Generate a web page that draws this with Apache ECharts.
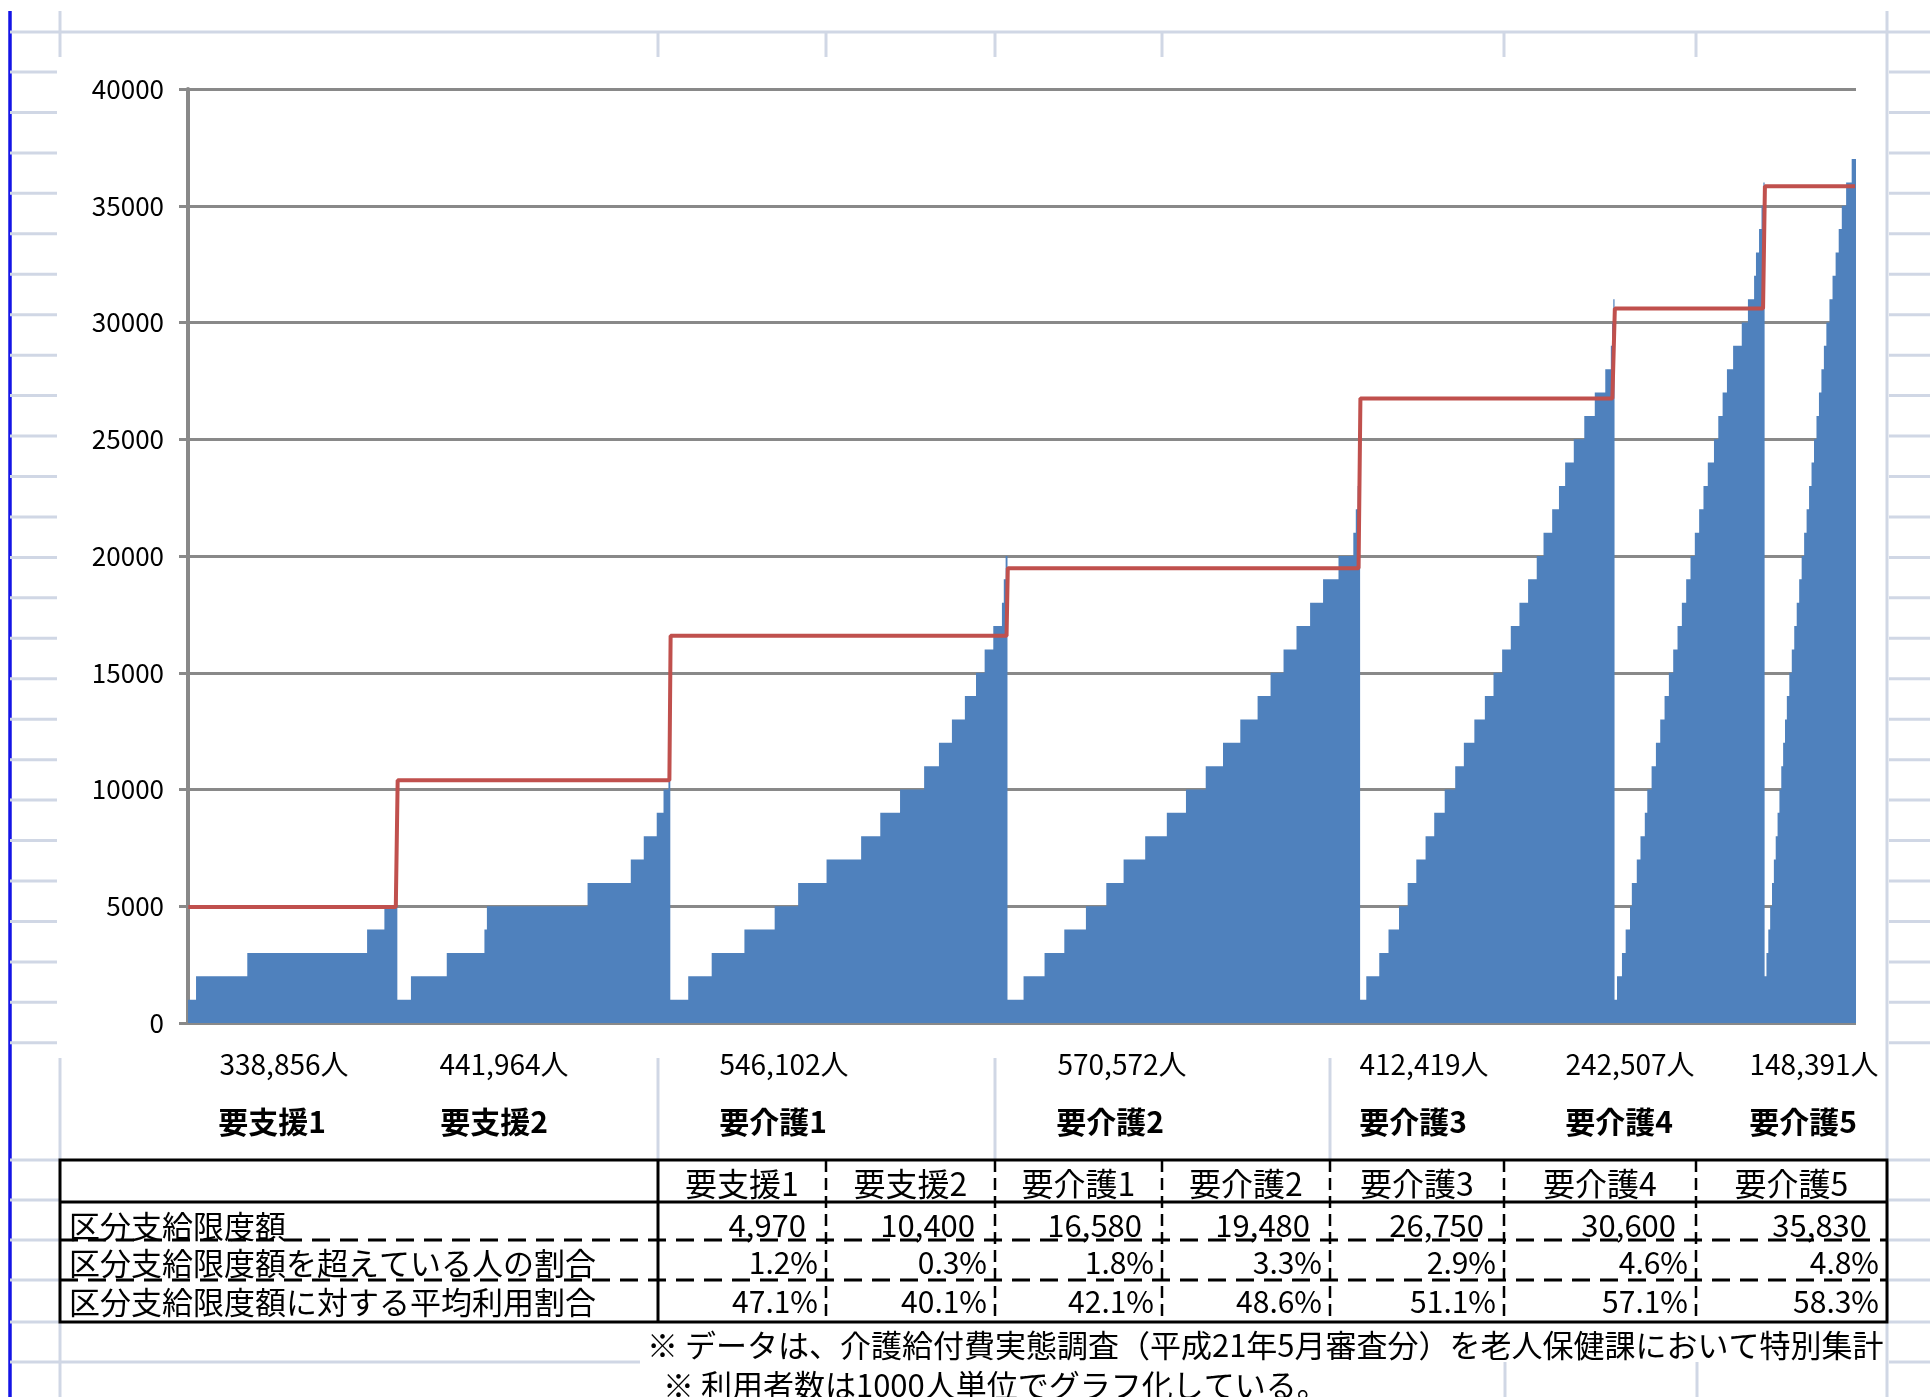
<!DOCTYPE html>
<html><head><meta charset="utf-8">
<script src="https://cdn.jsdelivr.net/npm/echarts/dist/echarts.min.js"></script>
<style>html,body{margin:0;padding:0;background:#fff}#c{width:1930px;height:1397px}</style>
</head><body><div id="c"></div>
<script>
// ---- data ----
const levels = ['要支援1','要支援2','要介護1','要介護2','要介護3','要介護4','要介護5'];
const userLabels = ['338,856人','441,964人','546,102人','570,572人','412,419人','242,507人','148,391人'];
const limits = [4970, 10400, 16580, 19480, 26750, 30600, 35830];
const limitLabels = ['4,970','10,400','16,580','19,480','26,750','30,600','35,830'];
const overRatio = ['1.2%','0.3%','1.8%','3.3%','2.9%','4.6%','4.8%'];
const avgRatio = ['47.1%','40.1%','42.1%','48.6%','51.1%','57.1%','58.3%'];
const rowLabels = ['区分支給限度額','区分支給限度額を超えている人の割合','区分支給限度額に対する平均利用割合'];
const notes = ['※ データは、介護給付費実態調査（平成21年5月審査分）を老人保健課において特別集計','※ 利用者数は1000人単位でグラフ化している。'];
const yTicks = [0,5000,10000,15000,20000,25000,30000,35000,40000];

// usage amount (yen) steps and number of users (thousands) at each step
const sien1Values = [1000,2000,3000,4000,5000,6000];
const sien1Counts = [13,83,194,28,17,4];
const sien2Values = [1000,2000,3000,4000,5000,6000,7000,8000,9000,10000,11000,12000];
const sien2Counts = [22,58,61,4,163,70,21,21,11,8,1,2];
const kaigo1Values = [1000,2000,3000,4000,5000,6000,7000,8000,9000,10000,11000,12000,13000,14000,15000,16000,17000,18000,19000,20000];
const kaigo1Counts = [29,38,53,49,38,46,56,31,32,39,24,21,21,18,14,14,14,3,3,3];
const kaigo2Values = [1000,2000,3000,4000,5000,6000,7000,8000,9000,10000,11000,12000,13000,14000,15000,16000,17000,18000,19000,20000,21000,22000,23000,24000];
const kaigo2Counts = [26,34,32,35,33,28,35,35,31,32,28,28,28,21,21,21,22,21,25,24,4,3,2,2];
const kaigo3Values = [1000,2000,3000,4000,5000,6000,7000,8000,9000,10000,11000,12000,13000,14000,15000,16000,17000,18000,19000,20000,21000,22000,23000,24000,25000,26000,27000,28000,29000,30000,31000];
const kaigo3Counts = [10,21,15,17,14,14,15,14,17,17,14,17,17,14,14,14,14,14,14,11,14,11,10,14,17,17,17,9,2,2,2];
const kaigo4Values = [1000,2000,3000,4000,5000,6000,7000,8000,9000,10000,11000,12000,13000,14000,15000,16000,17000,18000,19000,20000,21000,22000,23000,24000,25000,26000,27000,28000,29000,30000,31000,32000,33000,34000,35000,36000];
const kaigo4Counts = [4,8,6,7,3,8,6,7,4,7,7,7,7,7,7,7,7,7,7,7,7,7,7,10,7,7,7,10,14,10,10,3,5,4,3,2];
const kaigo5Values = [2000,3000,4000,5000,6000,7000,8000,9000,10000,11000,12000,13000,14000,15000,16000,17000,18000,19000,20000,21000,22000,23000,24000,25000,26000,27000,28000,29000,30000,31000,32000,33000,34000,35000,36000,37000];
const kaigo5Counts = [3,3,3,3,3,3,3,3,3,3,3,3,4,4,4,4,4,4,4,4,4,4,4,4,4,4,4,4,5,5,5,5,5,7,9,7];

const steps = [[sien1Values,sien1Counts],[sien2Values,sien2Counts],[kaigo1Values,kaigo1Counts],[kaigo2Values,kaigo2Counts],[kaigo3Values,kaigo3Counts],[kaigo4Values,kaigo4Counts],[kaigo5Values,kaigo5Counts]];
const cats = [], barData = [], limitData = [];
steps.forEach(function(s, li){
  s[0].forEach(function(v, i){
    for (let k = 0; k < s[1][i]; k++) { cats.push(String(cats.length)); barData.push(v); limitData.push(limits[li]); }
  });
});

// ---- layout helpers (sheet decoration + table) ----
const FONT = '"Noto Sans CJK JP","Noto Sans",sans-serif';
const SHEET = '#d0d7e5';
const G = [];
function hline(x1,x2,y,c,w,dash){G.push({type:'line',silent:true,z:1,shape:{x1:x1,y1:y,x2:x2,y2:y},style:{stroke:c,lineWidth:w,lineDash:dash||null}});}
function vline(x,y1,y2,c,w,dash){G.push({type:'line',silent:true,z:1,shape:{x1:x,y1:y1,x2:x,y2:y2},style:{stroke:c,lineWidth:w,lineDash:dash||null}});}
function txt(x,y,t,size,align,weight){G.push({type:'text',silent:true,z:5,x:x,y:y,style:{text:t,fill:'#000',font:(weight||'normal')+' '+size+'px '+FONT,align:align,textAlign:align,verticalAlign:'middle',textVerticalAlign:'middle'}});}

// sheet grid
vline(10,11,1397,'#1414e6',3.5);
hline(10,1930,32,SHEET,3);
vline(60,11,57,SHEET,3);
[658,826,995,1162,1504,1696].forEach(function(x){vline(x,32,57,SHEET,3);});
vline(1887,11,1397,SHEET,3);
for (let k = 0; k < 25; k++) { const y = 72 + 40.45*k; hline(10,57,y,SHEET,3); hline(1889,1930,y,SHEET,3); }
[1160,1200,1240,1280,1322,1362].forEach(function(y){hline(10,60,y,SHEET,3); hline(1889,1930,y,SHEET,3);});
[60,658,995,1330].forEach(function(x){vline(x,1058,1160,SHEET,3);});
vline(60,1322,1397,SHEET,3);
hline(60,640,1362,SHEET,3);
[1505,1697].forEach(function(x){vline(x,1362,1397,SHEET,3);});

// labels under the chart
const colCentersTop = [284,504,784,1122,1424,1630,1814];
const lvlCenters = [272,494,773,1110,1413,1619,1803];
userLabels.forEach(function(t,i){txt(colCentersTop[i],1064,t,28,'center');});
levels.forEach(function(t,i){txt(lvlCenters[i],1122,t,30,'center','bold');});

// table
const colEdges = [658,826,995,1162,1330,1504,1696,1887];
G.push({type:'rect',silent:true,z:4,shape:{x:60,y:1160,width:1827,height:162},style:{fill:'#fff',stroke:'#000',lineWidth:3}});
function tl(x1,x2,y,w,dash){G.push({type:'line',silent:true,z:6,shape:{x1:x1,y1:y,x2:x2,y2:y},style:{stroke:'#000',lineWidth:w,lineDash:dash||null}});}
function tv(x,y1,y2,w,dash){G.push({type:'line',silent:true,z:6,shape:{x1:x,y1:y1,x2:x,y2:y2},style:{stroke:'#000',lineWidth:w,lineDash:dash||null}});}
tl(60,1887,1202,3);
tl(60,1887,1240,3,[18,10]);
tl(60,1887,1280,3,[18,10]);
tv(658,1160,1322,3);
for (let i = 1; i < colEdges.length-1; i++) tv(colEdges[i],1160,1322,2.5,[12,6]);
levels.forEach(function(t,i){txt((colEdges[i]+colEdges[i+1])/2,1184,t,32,'center');});
txt(69,1226,rowLabels[0],31,'left');
txt(69,1263,rowLabels[1],31,'left');
txt(69,1302,rowLabels[2],31,'left');
limitLabels.forEach(function(t,i){txt(colEdges[i+1]-20,1225,t,31,'right');});
overRatio.forEach(function(t,i){txt(colEdges[i+1]-8,1263,t,30,'right');});
avgRatio.forEach(function(t,i){txt(colEdges[i+1]-8,1302,t,30,'right');});
txt(647,1345,notes[0],31,'left');
txt(663,1385,notes[1],31,'left');

// ---- chart ----
const chart = echarts.init(document.getElementById('c'), null, {renderer:'canvas'});
chart.setOption({
  animation:false,
  backgroundColor:'#fff',
  grid:{left:188,right:74,top:89,bottom:374,containLabel:false},
  xAxis:{type:'category',data:cats,boundaryGap:true,axisLine:{show:false},axisTick:{show:false},axisLabel:{show:false},splitLine:{show:false}},
  yAxis:{type:'value',min:yTicks[0],max:yTicks[yTicks.length-1],interval:yTicks[1]-yTicks[0],
    axisLine:{show:true,lineStyle:{color:'#898989',width:4}},
    axisTick:{show:true,length:9,lineStyle:{color:'#898989',width:3}},
    axisLabel:{fontSize:26,color:'#000',margin:24,fontFamily:FONT,formatter:function(v){return String(v);}},
    splitLine:{show:true,lineStyle:{color:'#898989',width:3}}},
  series:[
    {type:'bar',data:barData,large:true,largeThreshold:100,barCategoryGap:'0%',barGap:'0%',itemStyle:{color:'#4f81bd'},z:2},
    {type:'line',data:limitData,symbol:'none',showSymbol:false,lineStyle:{color:'#c0504d',width:4},z:3}
  ],
  graphic:G
});
</script></body></html>
